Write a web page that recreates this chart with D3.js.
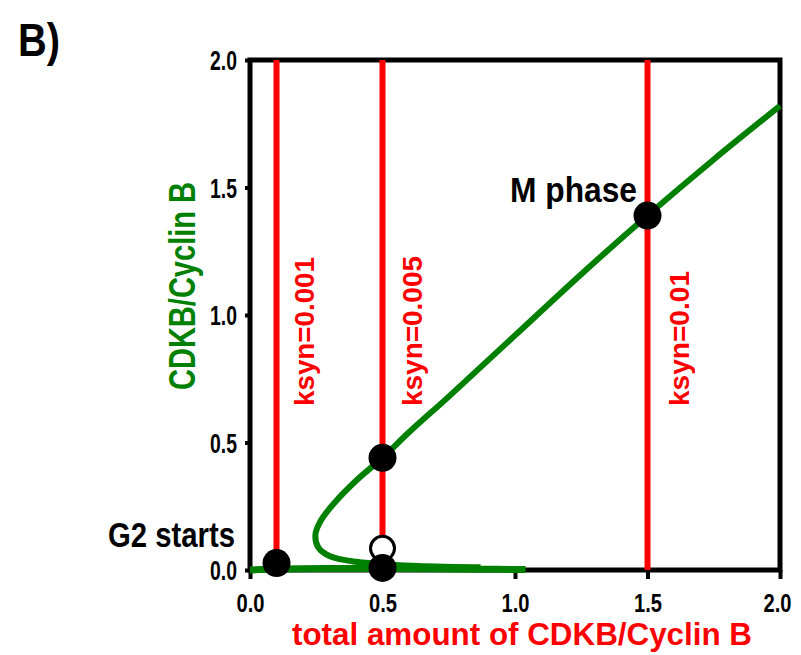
<!DOCTYPE html>
<html>
<head>
<meta charset="utf-8">
<script src="https://cdn.jsdelivr.net/npm/d3@7"></script>
<style>
  html, body { margin: 0; padding: 0; background: #fff; }
  svg text { font-family: "Liberation Sans", Arial, sans-serif; font-weight: bold; }
</style>
</head>
<body>
<svg id="chart" width="801" height="655"></svg>
<script>
// Axis ticks
const tickValues = [0, 0.5, 1.0, 1.5, 2.0];

// Upper + middle branch of the steady-state curve (total, CDKB/Cyclin B)
const upperBranch = [
  [2.0, 1.82], [1.75, 1.61], [1.5, 1.39], [1.25, 1.16], [1.0, 0.92],
  [0.75, 0.68], [0.6, 0.54], [0.5, 0.44], [0.4, 0.35], [0.32, 0.265],
  [0.268, 0.195], [0.247, 0.14], [0.257, 0.09], [0.3, 0.055],
  [0.4, 0.032], [0.55, 0.02], [0.7, 0.014], [0.87, 0.011]
];
// Lower branch
const lowerBranch = [
  [0.0, 0.0], [0.1, 0.004], [0.3, 0.006], [0.5, 0.006],
  [0.7, 0.005], [0.85, 0.003], [1.04, 0.002]
];

// Synthesis-rate lines and their labels
const ksynTotals = [0.1, 0.5, 1.5];
const ksynLabels = ["ksyn=0.001", "ksyn=0.005", "ksyn=0.01"];
const ksynLabelLengths = [149, 150, 135];

// Steady states
const stableStates = [[0.1, 0.027], [0.5, 0.44], [0.5, 0.008], [1.5, 1.39]];
const unstableStates = [[0.5, 0.085]];

const svg = d3.select("#chart");
const x = d3.scaleLinear().domain([0, 2]).range([250, 780]);
const y = d3.scaleLinear().domain([0, 2]).range([570, 60]);

const GREEN = "#008000", RED = "#ff0000";

// Axes
const xAxis = svg.append("g")
  .attr("transform", `translate(0,${y(0)})`)
  .call(d3.axisBottom(x).tickValues(tickValues).tickSize(9).tickFormat(d3.format(".1f")));
xAxis.select(".domain").remove();
xAxis.selectAll(".tick line").attr("stroke", "#000").attr("stroke-width", 4);
xAxis.selectAll(".tick text")
  .attr("y", 42).attr("dy", null)
  .attr("font-size", 25).attr("fill", "#000")
  .attr("textLength", 28).attr("lengthAdjust", "spacingAndGlyphs");
// keep the last label inside the page
xAxis.selectAll(".tick text").filter(d => d === 2).attr("x", -3);

const yAxis = svg.append("g")
  .attr("transform", `translate(${x(0)},0)`)
  .call(d3.axisLeft(y).tickValues(tickValues).tickSize(5).tickPadding(8).tickFormat(d3.format(".1f")));
yAxis.select(".domain").remove();
yAxis.selectAll(".tick line").attr("stroke", "#000").attr("stroke-width", 4);
yAxis.selectAll(".tick text")
  .attr("font-size", 27).attr("fill", "#000").attr("dy", "0.36em")
  .attr("textLength", 27).attr("lengthAdjust", "spacingAndGlyphs");

// Plot frame
svg.append("rect")
  .attr("x", x(0)).attr("y", y(2))
  .attr("width", x(2) - x(0)).attr("height", y(0) - y(2))
  .attr("fill", "none").attr("stroke", "#000").attr("stroke-width", 5);

// Red synthesis lines
svg.selectAll("line.ksyn").data(ksynTotals).enter().append("line")
  .attr("class", "ksyn")
  .attr("x1", d => x(d)).attr("x2", d => x(d))
  .attr("y1", y(2)).attr("y2", y(0))
  .attr("stroke", RED).attr("stroke-width", 6);

// Rotated line labels
const labelOffset = [37, 39, 41];
svg.selectAll("text.ksyn").data(ksynTotals).enter().append("text")
  .attr("class", "ksyn")
  .attr("transform", (d, i) => `translate(${x(d) + labelOffset[i]},${406}) rotate(-90)`)
  .attr("font-size", 28).attr("fill", RED)
  .attr("textLength", (d, i) => ksynLabelLengths[i]).attr("lengthAdjust", "spacingAndGlyphs")
  .text((d, i) => ksynLabels[i]);

// Green curves
const line = d3.line().x(d => x(d[0])).y(d => y(d[1])).curve(d3.curveCatmullRom.alpha(0.5));
svg.append("path").datum(lowerBranch).attr("d", line)
  .attr("fill", "none").attr("stroke", GREEN).attr("stroke-width", 7);
svg.append("path").datum(upperBranch).attr("d", line)
  .attr("fill", "none").attr("stroke", GREEN).attr("stroke-width", 6).attr("stroke-linejoin", "round");

// Steady-state markers
svg.selectAll("circle.unstable").data(unstableStates).enter().append("circle")
  .attr("class", "unstable")
  .attr("cx", d => x(d[0])).attr("cy", d => y(d[1])).attr("r", 12)
  .attr("fill", "#fff").attr("stroke", "#000").attr("stroke-width", 3);
svg.selectAll("circle.stable").data(stableStates).enter().append("circle")
  .attr("class", "stable")
  .attr("cx", d => x(d[0])).attr("cy", d => y(d[1])).attr("r", 14)
  .attr("fill", "#000");

// Annotations
svg.append("text").attr("x", 18).attr("y", 56)
  .attr("font-size", 46).attr("fill", "#000")
  .attr("textLength", 42).attr("lengthAdjust", "spacingAndGlyphs").text("B)");
svg.append("text").attr("x", 510).attr("y", 202)
  .attr("font-size", 35).attr("fill", "#000")
  .attr("textLength", 127).attr("lengthAdjust", "spacingAndGlyphs").text("M phase");
svg.append("text").attr("x", 108).attr("y", 547)
  .attr("font-size", 35).attr("fill", "#000")
  .attr("textLength", 127).attr("lengthAdjust", "spacingAndGlyphs").text("G2 starts");

// Axis titles
svg.append("text")
  .attr("transform", "translate(195,390) rotate(-90)")
  .attr("font-size", 36).attr("fill", GREEN)
  .attr("textLength", 208).attr("lengthAdjust", "spacingAndGlyphs")
  .text("CDKB/Cyclin B");
svg.append("text").attr("x", 292).attr("y", 645)
  .attr("font-size", 31).attr("fill", RED)
  .attr("textLength", 460).attr("lengthAdjust", "spacingAndGlyphs")
  .text("total amount of CDKB/Cyclin B");
</script>
</body>
</html>
